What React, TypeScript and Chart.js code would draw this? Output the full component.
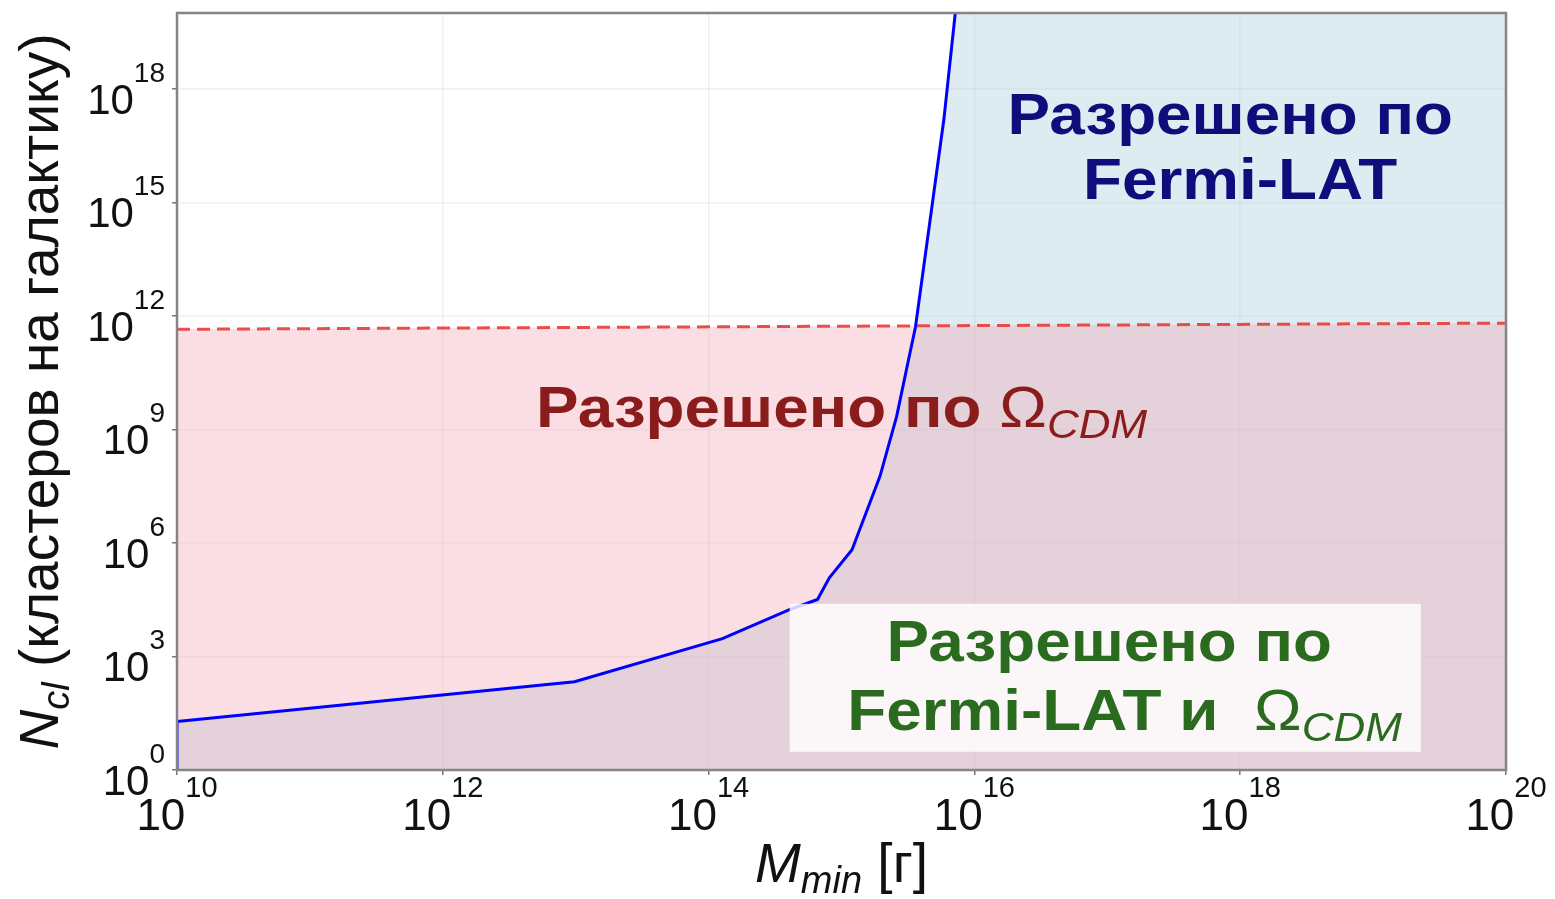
import React, { useEffect, useRef } from "react";
import { Chart, registerables } from "chart.js";

Chart.register(...registerables);

// ---------- data ----------
const fermiMass = [1e10, 1e10, 9.8e12, 1.27e14, 4.1e14, 6.6e14, 8.1e14, 1.2e15, 1.95e15, 2.6e15, 3.2e15, 3.6e15, 5.9e15, 7.2e15];
const fermiN = [1, 19, 214, 2950, 1.74e4, 3.2e4, 1.2e5, 6.6e5, 5.8e7, 2.2e9, 7.1e10, 5.0e11, 1.6e17, 1.1e20];
const omegaMass = [1e10, 1e20];
const omegaN = [4.4e11, 6.4e11];
const xTickExp = [10, 12, 14, 16, 18, 20];
const yTickExp = [0, 3, 6, 9, 12, 15, 18];
const X_MIN = 1e10;
const X_MAX = 1e20;
const Y_MIN = 1;
const Y_MAX = 1e20;

// ---------- text ----------
const TXT_ALLOWED = "Разрешено по";
const TXT_FERMI = "Fermi-LAT";
const TXT_FERMI_AND = "Fermi-LAT и  ";
const TXT_OMEGA = "Ω";
const TXT_CDM = "CDM";
const Y_TITLE_MAIN = "N";
const Y_TITLE_SUB = "cl";
const Y_TITLE_REST = " (кластеров на галактику)";
const X_TITLE_MAIN = "M";
const X_TITLE_SUB = "min";
const X_TITLE_REST = " [г]";

const FONT = '"Liberation Sans", Arial, Helvetica, sans-serif';

type Run = { t: string; size: number; weight?: string; style?: string; dy?: number; color?: string };

function runFont(r: Run) {
  return `${r.style || "normal"} ${r.weight || "normal"} ${r.size}px ${FONT}`;
}

function measureRuns(ctx: CanvasRenderingContext2D, runs: Run[]) {
  let w = 0;
  for (const r of runs) {
    ctx.font = runFont(r);
    w += ctx.measureText(r.t).width;
  }
  return w;
}

function drawRuns(
  ctx: CanvasRenderingContext2D,
  runs: Run[],
  x: number,
  y: number,
  align: "left" | "center" | "right",
  color: string,
  sx = 1
) {
  const w = measureRuns(ctx, runs) * sx;
  const start = align === "center" ? x - w / 2 : align === "right" ? x - w : x;
  ctx.save();
  ctx.translate(start, y);
  ctx.scale(sx, 1);
  ctx.textAlign = "left";
  ctx.textBaseline = "alphabetic";
  let cx = 0;
  for (const r of runs) {
    ctx.font = runFont(r);
    ctx.fillStyle = r.color || color;
    ctx.fillText(r.t, cx, r.dy || 0);
    cx += ctx.measureText(r.t).width;
  }
  ctx.restore();
}

// annotation anchors in decades (log10 of data values)
const LAYOUT = {
  blue1: { lx: 17.925, ly: 16.81 },
  blue2: { lx: 18.0, ly: 15.09 },
  red: { lx: 15.0, ly: 9.05 },
  green1: { lx: 17.015, ly: 2.88 },
  green2: { lx: 17.13, ly: 1.06 },
  box: { x0: 14.61, x1: 19.36, y0: 4.39, y1: 0.48 },
};

const LABEL_SIZE = 58;
const LABEL_SUB = 40;
const LABEL_SX = 1.1;

const overlayPlugin = {
  id: "overlay",
  afterDraw(chart: any) {
    const { ctx, chartArea: ca } = chart;
    const xs = chart.scales.x;
    const ys = chart.scales.y;
    const px = (lg: number) => xs.getPixelForValue(Math.pow(10, lg));
    const py = (lg: number) => ys.getPixelForValue(Math.pow(10, lg));
    ctx.save();

    // white box behind green label
    const b = LAYOUT.box;
    ctx.fillStyle = "rgba(255,255,255,0.82)";
    ctx.fillRect(px(b.x0), py(b.y0), px(b.x1) - px(b.x0), py(b.y1) - py(b.y0));

    const big = LABEL_SIZE;
    const sub = LABEL_SUB;
    // blue label
    const navy = "#0d0d7c";
    drawRuns(ctx, [{ t: TXT_ALLOWED, size: big, weight: "bold" }], px(LAYOUT.blue1.lx), py(LAYOUT.blue1.ly), "center", navy, LABEL_SX);
    drawRuns(ctx, [{ t: TXT_FERMI, size: big, weight: "bold" }], px(LAYOUT.blue2.lx), py(LAYOUT.blue2.ly), "center", navy, LABEL_SX);

    // red label
    const dred = "#8b1c1c";
    drawRuns(
      ctx,
      [
        { t: TXT_ALLOWED + " ", size: big, weight: "bold" },
        { t: TXT_OMEGA, size: big },
        { t: TXT_CDM, size: sub, style: "italic", dy: 11 },
      ],
      px(LAYOUT.red.lx),
      py(LAYOUT.red.ly),
      "center",
      dred,
      LABEL_SX
    );

    // green label
    const green = "#2b6b20";
    drawRuns(ctx, [{ t: TXT_ALLOWED, size: big, weight: "bold" }], px(LAYOUT.green1.lx), py(LAYOUT.green1.ly), "center", green, LABEL_SX);
    drawRuns(
      ctx,
      [
        { t: TXT_FERMI_AND, size: big, weight: "bold" },
        { t: TXT_OMEGA, size: big },
        { t: TXT_CDM, size: sub, style: "italic", dy: 11 },
      ],
      px(LAYOUT.green2.lx),
      py(LAYOUT.green2.ly),
      "center",
      green,
      LABEL_SX
    );

    // frame
    ctx.strokeStyle = "#858585";
    ctx.lineWidth = 2.5;
    ctx.strokeRect(ca.left, ca.top, ca.right - ca.left, ca.bottom - ca.top);

    // y tick labels
    for (const e of yTickExp) {
      const ty = ys.getPixelForValue(Math.pow(10, e));
      drawRuns(
        ctx,
        [
          { t: "10", size: 42 },
          { t: String(e), size: 28, dy: -32 },
        ],
        ca.left - 12,
        ty + 25,
        "right",
        "#111"
      );
    }
    // x tick labels
    for (const e of xTickExp) {
      const tx = xs.getPixelForValue(Math.pow(10, e));
      drawRuns(
        ctx,
        [
          { t: "10", size: 44 },
          { t: String(e), size: 29, dy: -33 },
        ],
        tx,
        ca.bottom + 60,
        "center",
        "#111"
      );
    }

    // x title
    drawRuns(
      ctx,
      [
        { t: X_TITLE_MAIN, size: 55, style: "italic" },
        { t: X_TITLE_SUB, size: 38, style: "italic", dy: 11 },
        { t: X_TITLE_REST, size: 55 },
      ],
      (ca.left + ca.right) / 2,
      ca.bottom + 112,
      "center",
      "#111"
    );

    // y title (rotated)
    ctx.save();
    ctx.translate(58, (ca.top + ca.bottom) / 2);
    ctx.rotate(-Math.PI / 2);
    drawRuns(
      ctx,
      [
        { t: Y_TITLE_MAIN, size: 55, style: "italic" },
        { t: Y_TITLE_SUB, size: 38, style: "italic", dy: 11 },
        { t: Y_TITLE_REST, size: 55 },
      ],
      0,
      0,
      "center",
      "#111"
    );
    ctx.restore();

    ctx.restore();
  },
};

export default function App() {
  const ref = useRef<HTMLCanvasElement>(null);

  useEffect(() => {
    document.body.style.margin = "0";
    const fermiPts = fermiMass.map((m, i) => ({ x: m, y: fermiN[i] }));
    const fermiFillPts = [...fermiPts, { x: X_MAX, y: fermiN[fermiN.length - 1] }];
    const omegaPts = omegaMass.map((m, i) => ({ x: m, y: omegaN[i] }));

    const chart = new Chart(ref.current as HTMLCanvasElement, {
      type: "line",
      data: {
        datasets: [
          {
            label: "Ω_CDM limit",
            data: omegaPts,
            borderColor: "rgba(232,60,55,0.9)",
            borderWidth: 3,
            borderDash: [13, 7],
            pointRadius: 0,
            fill: false,
            order: 1,
          },
          {
            label: "Fermi-LAT limit",
            data: fermiPts,
            borderColor: "#0000ff",
            borderWidth: 3,
            pointRadius: 0,
            fill: false,
            order: 0,
          },
          {
            label: "Ω_CDM allowed",
            data: omegaPts,
            borderColor: "transparent",
            borderWidth: 1,
            backgroundColor: "rgba(241,161,178,0.35)",
            pointRadius: 0,
            fill: "start",
            order: 2,
          },
          {
            label: "Fermi allowed",
            data: fermiFillPts,
            borderColor: "transparent",
            borderWidth: 1,
            backgroundColor: "rgba(161,198,215,0.35)",
            pointRadius: 0,
            fill: "start",
            order: 3,
          },
        ],
      },
      options: {
        responsive: false,
        maintainAspectRatio: false,
        devicePixelRatio: 1,
        animation: false,
        events: [],
        layout: { padding: { top: 13, right: 49, left: 0, bottom: 0 } },
        elements: { line: { tension: 0 } },
        plugins: {
          legend: { display: false },
          tooltip: { enabled: false },
          title: { display: false },
          filler: { drawTime: "beforeDatasetsDraw" },
        },
        scales: {
          x: {
            type: "logarithmic",
            min: X_MIN,
            max: X_MAX,
            afterBuildTicks: (s: any) => {
              s.ticks = xTickExp.map((e) => ({ value: Math.pow(10, e) }));
            },
            afterFit: (s: any) => {
              s.height = 129;
            },
            ticks: { display: false },
            border: { display: false },
            grid: {
              color: "rgba(0,0,0,0.06)",
              lineWidth: 1.5,
              drawTicks: true,
              tickLength: 5,
              tickColor: "#777",
              tickWidth: 1.5,
            },
          },
          y: {
            type: "logarithmic",
            min: Y_MIN,
            max: Y_MAX,
            afterBuildTicks: (s: any) => {
              s.ticks = yTickExp.map((e) => ({ value: Math.pow(10, e) }));
            },
            afterFit: (s: any) => {
              s.width = 177;
            },
            ticks: { display: false },
            border: { display: false },
            grid: {
              color: "rgba(0,0,0,0.06)",
              lineWidth: 1.5,
              drawTicks: true,
              tickLength: 5,
              tickColor: "#777",
              tickWidth: 1.5,
            },
          },
        },
      } as any,
      plugins: [overlayPlugin],
    });
    return () => chart.destroy();
  }, []);

  return (
    <div style={{ position: "absolute", left: 0, top: 0, width: 1555, height: 899, background: "#fff" }}>
      <canvas ref={ref} width={1555} height={899} style={{ display: "block", width: 1555, height: 899 }} />
    </div>
  );
}
